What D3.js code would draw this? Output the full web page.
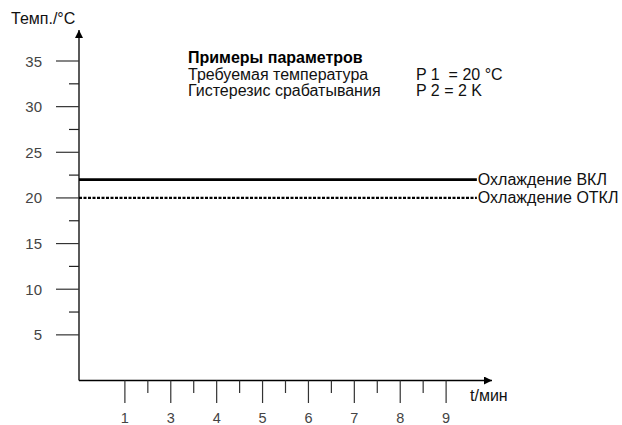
<!DOCTYPE html>
<html>
<head>
<meta charset="utf-8">
<script src="https://cdn.jsdelivr.net/npm/d3@7"></script>
<style>
  body { margin: 0; padding: 0; background: #fff; }
  svg { display: block; font-family: "Liberation Sans", Arial, sans-serif; }
  text { white-space: pre; }
</style>
</head>
<body>
<div id="main"></div>
<script>
// data
const yTickValues = [5, 10, 15, 20, 25, 30, 35];
const yMinorValues = [7.5, 12.5, 17.5, 22.5, 27.5, 32.5];
const xTickPositions = [1, 2, 3, 4, 5, 6, 7, 8];
const xTickLabels = ['1', '3', '4', '5', '6', '7', '8', '9'];
const xMinorPositions = [1.5, 2.5, 3.5, 4.5, 5.5, 6.5, 7.5];
const thresholds = [
    { name: 'Охлаждение ВКЛ', value: 22, dash: null, width: 2.8 },
    { name: 'Охлаждение ОТКЛ', value: 20, dash: '3,1.5', width: 2.2 }
];
const lineEnd = 8.67;
const paramTitle = 'Примеры параметров';
const paramNames = ['Требуемая температура', 'Гистерезис срабатывания'];
const paramValues = ['P 1  = 20 °C', 'P 2 = 2 K'];

const WIDTH = 622, HEIGHT = 425;
const FS = 16;
const svg = d3.select('#main').append('svg').attr('width', WIDTH).attr('height', HEIGHT);

const x = d3.scaleLinear().domain([0, 9]).range([79, 492]);
const y = d3.scaleLinear().domain([0, 35]).range([380.5, 61]);

// arrow head
svg.append('defs').append('marker')
    .attr('id', 'arrow').attr('viewBox', '0 0 10 10')
    .attr('refX', 10).attr('refY', 5)
    .attr('markerWidth', 10).attr('markerHeight', 8)
    .attr('markerUnits', 'userSpaceOnUse')
    .attr('orient', 'auto')
    .append('path').attr('d', 'M0,0 L10,5 L0,10 Z').attr('fill', '#000');

// axes lines
svg.append('line')
    .attr('x1', x(0)).attr('y1', y(0)).attr('x2', x(0)).attr('y2', 30)
    .attr('stroke', '#000').attr('stroke-width', 1.3).attr('marker-end', 'url(#arrow)');
svg.append('line')
    .attr('x1', x(0)).attr('y1', y(0)).attr('x2', x(9)).attr('y2', y(0))
    .attr('stroke', '#000').attr('stroke-width', 1.3).attr('marker-end', 'url(#arrow)');

// y ticks
svg.selectAll('line.ymajor').data(yTickValues).enter().append('line').attr('class', 'ymajor')
    .attr('x1', 56).attr('x2', x(0))
    .attr('y1', d => y(d)).attr('y2', d => y(d))
    .attr('stroke', '#333').attr('stroke-width', 1.2);
svg.selectAll('line.yminor').data(yMinorValues).enter().append('line').attr('class', 'yminor')
    .attr('x1', 69).attr('x2', x(0))
    .attr('y1', d => y(d)).attr('y2', d => y(d))
    .attr('stroke', '#222').attr('stroke-width', 1.2);
svg.selectAll('text.ylabel').data(yTickValues).enter().append('text').attr('class', 'ylabel')
    .attr('x', 42).attr('y', d => y(d) + 5.5)
    .attr('text-anchor', 'end').attr('font-size', 15).attr('fill', '#444')
    .text(d => d);

// x ticks
svg.selectAll('line.xmajor').data(xTickPositions).enter().append('line').attr('class', 'xmajor')
    .attr('x1', d => x(d)).attr('x2', d => x(d))
    .attr('y1', y(0)).attr('y2', 403)
    .attr('stroke', '#333').attr('stroke-width', 1.2);
svg.selectAll('line.xminor').data(xMinorPositions).enter().append('line').attr('class', 'xminor')
    .attr('x1', d => x(d)).attr('x2', d => x(d))
    .attr('y1', y(0)).attr('y2', 393)
    .attr('stroke', '#333').attr('stroke-width', 1.2);
svg.selectAll('text.xlabel').data(xTickPositions).enter().append('text').attr('class', 'xlabel')
    .attr('x', d => x(d)).attr('y', 423)
    .attr('text-anchor', 'middle').attr('font-size', 14.5).attr('fill', '#444')
    .text((d, i) => xTickLabels[i]);

// axis titles
svg.append('text').attr('x', 11).attr('y', 24).attr('font-size', FS).attr('fill', '#111').text('Темп./°C');
svg.append('text').attr('x', 470).attr('y', 401).attr('font-size', FS).attr('fill', '#111').text('t/мин');

// threshold lines
const thr = svg.selectAll('g.thr').data(thresholds).enter().append('g').attr('class', 'thr');
thr.append('line')
    .attr('x1', x(0)).attr('x2', x(lineEnd))
    .attr('y1', d => y(d.value)).attr('y2', d => y(d.value))
    .attr('stroke', '#000').attr('stroke-width', d => d.width)
    .attr('stroke-dasharray', d => d.dash);
thr.append('text')
    .attr('x', x(lineEnd) + 1).attr('y', d => y(d.value) + 5.5)
    .attr('font-size', FS).attr('fill', '#111')
    .text(d => d.name);

// parameter block
svg.append('text').attr('x', 188).attr('y', 63).attr('font-size', FS).attr('font-weight', 'bold').attr('fill', '#000').text(paramTitle);
svg.selectAll('text.pname').data(paramNames).enter().append('text').attr('class', 'pname')
    .attr('x', 188).attr('y', (d, i) => 80 + i * 16)
    .attr('font-size', FS).attr('fill', '#111').text(d => d);
svg.selectAll('text.pval').data(paramValues).enter().append('text').attr('class', 'pval')
    .attr('x', 416).attr('y', (d, i) => 80 + i * 16)
    .attr('font-size', FS).attr('fill', '#111').text(d => d);
</script>
</body>
</html>
